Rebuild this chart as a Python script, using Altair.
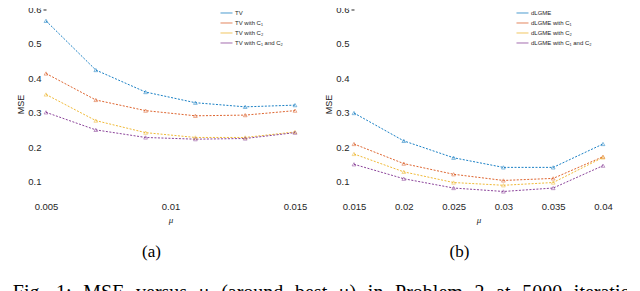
import altair as alt
import pandas as pd

# ---- data ----
mu_a = [0.005, 0.007, 0.009, 0.011, 0.013, 0.015]
tv = [0.567, 0.424, 0.360, 0.329, 0.317, 0.322]
tv_c1 = [0.414, 0.337, 0.306, 0.291, 0.293, 0.306]
tv_c2 = [0.353, 0.277, 0.242, 0.228, 0.228, 0.244]
tv_c12 = [0.301, 0.250, 0.228, 0.223, 0.225, 0.242]
names_a = ["TV", "TV with C\u2081", "TV with C\u2082", "TV with C\u2081 and C\u2082"]

mu_b = [0.015, 0.02, 0.025, 0.03, 0.035, 0.04]
dl = [0.299, 0.218, 0.169, 0.141, 0.141, 0.209]
dl_c1 = [0.209, 0.152, 0.121, 0.103, 0.109, 0.172]
dl_c2 = [0.180, 0.128, 0.097, 0.089, 0.097, 0.170]
dl_c12 = [0.150, 0.108, 0.081, 0.071, 0.081, 0.146]
names_b = ["dLGME", "dLGME with C\u2081", "dLGME with C\u2082", "dLGME with C\u2081 and C\u2082"]

x_ticks_a = [0.005, 0.01, 0.015]
x_ticks_b = [0.015, 0.02, 0.025, 0.03, 0.035, 0.04]
y_ticks = [0.1, 0.2, 0.3, 0.4, 0.5, 0.6]

colors = ["#0072BD", "#D95319", "#EDB120", "#7E2F8E"]
# justified caption: wider spaces between words
caption_words = ["Fig.", "1:", "MSE", "versus", "\u03bc", "(around", "best", "\u03bc)",
                 "in", "Problem", "2", "at", "5000", "iterations."]
caption = "\u2002\u200a".join(caption_words)


def long_df(mu, series, names):
    rows = []
    for name, vals in zip(names, series):
        for m, v in zip(mu, vals):
            rows.append({"mu": m, "mse": v, "series": name})
    return pd.DataFrame(rows)


TXT = "#262626"


def panel(df, names, xdom, xticks, label, lx):
    x_axis = alt.Axis(values=xticks, labelExpr="format(datum.value, '.3~f')",
                      domain=False, ticks=False, labelFlush=False,
                      labelFont="Liberation Sans", labelFontSize=9.5, labelColor=TXT,
                      labelPadding=3, title="\u03bc", titleFont="Liberation Serif",
                      titleFontStyle="italic", titleFontWeight="normal", titleFontSize=9,
                      titleColor=TXT, titlePadding=4, grid=False)
    y_axis = alt.Axis(values=y_ticks, format=".1f", domain=False, tickSize=3,
                      tickColor=TXT,
                      tickOpacity={"condition": {"test": "datum.value > 0.59", "value": 1}, "value": 0},
                      labelFont="Liberation Sans", labelFontSize=9.5, labelColor=TXT,
                      labelPadding=2, title="MSE", titleFont="Liberation Sans",
                      titleFontWeight="normal", titleFontSize=9, titleColor=TXT,
                      titlePadding=2, grid=False)
    base = alt.Chart(df).encode(
        x=alt.X("mu:Q", scale=alt.Scale(domain=xdom, nice=False, zero=False), axis=x_axis),
        y=alt.Y("mse:Q", scale=alt.Scale(domain=[0.05, 0.6], nice=False, zero=False), axis=y_axis),
        color=alt.Color("series:N", sort=names,
                        scale=alt.Scale(domain=names, range=colors),
                        legend=alt.Legend(title=None, orient="none", legendX=lx, legendY=-3,
                                          symbolType="stroke", symbolSize=144,
                                          symbolStrokeWidth=1, labelFontSize=6,
                                          labelFont="Liberation Sans", labelColor=TXT,
                                          rowPadding=-5, labelOffset=2)),
    )
    line = base.mark_line(strokeWidth=0.9, strokeDash=[2, 1.5])
    pts = base.mark_point(shape="triangle-up", size=14, filled=False, strokeWidth=0.7)
    return alt.layer(line, pts).properties(
        width=249, height=189.2,
        title=alt.TitleParams(label, orient="bottom", font="Liberation Serif", fontSize=17,
                              fontWeight="normal", color="#000000", frame="group",
                              anchor="middle", dx=-19, offset=20),
    )


pa = panel(long_df(mu_a, [tv, tv_c1, tv_c2, tv_c12], names_a), names_a,
           [0.005, 0.015], x_ticks_a, "(a)", 174)
pb = panel(long_df(mu_b, [dl, dl_c1, dl_c2, dl_c12], names_b), names_b,
           [0.015, 0.04], x_ticks_b, "(b)", 162)

chart = alt.hconcat(pa, pb, spacing=17).resolve_scale(color="independent").properties(
    padding={"top": -3.5, "left": 4, "right": -27, "bottom": 0},
    title=alt.TitleParams(caption, orient="bottom", anchor="start", font="Liberation Serif",
                          fontSize=20, fontWeight="normal", color="#000000", dx=-4, offset=22.5),
).configure_view(stroke=None)

chart.save("out.html", embed_options={"renderer": "svg", "actions": False})
